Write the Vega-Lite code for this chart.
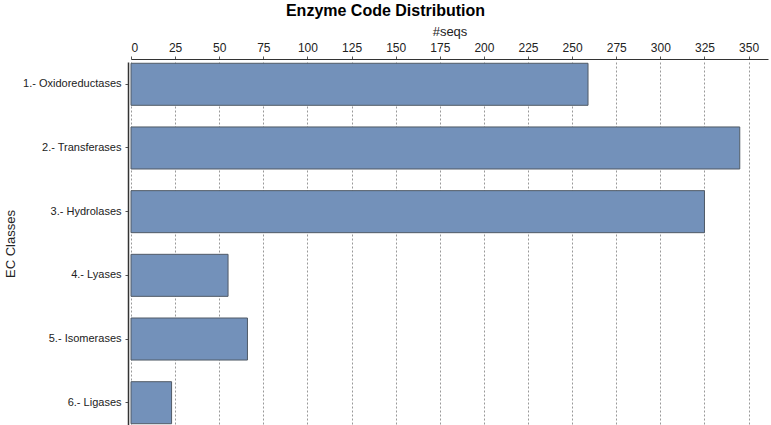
{
  "$schema": "https://vega.github.io/schema/vega-lite/v6.json",
  "width": 637,
  "height": 363,
  "autosize": {"type": "none"},
  "padding": {"left": 131, "top": 62, "right": 3, "bottom": 0},
  "background": "white",
  "title": {
    "text": "Enzyme Code Distribution",
    "font": "Liberation Sans",
    "fontSize": 16,
    "fontWeight": "bold",
    "color": "#000000",
    "anchor": "middle",
    "frame": "group",
    "dx": -64,
    "offset": 6
  },
  "data": {
    "values": [
      {"ec": "1.- Oxidoreductases", "seqs": 259},
      {"ec": "2.- Transferases", "seqs": 345},
      {"ec": "3.- Hydrolases", "seqs": 325},
      {"ec": "4.- Lyases", "seqs": 55},
      {"ec": "5.- Isomerases", "seqs": 66},
      {"ec": "6.- Ligases", "seqs": 23}
    ]
  },
  "mark": {"type": "bar", "color": "#7391ba", "stroke": "#505a66", "strokeWidth": 1},
  "encoding": {
    "y": {
      "field": "ec",
      "type": "nominal",
      "sort": null,
      "scale": {"paddingInner": 0.34, "paddingOuter": 0.02},
      "axis": {
        "title": "EC Classes",
        "titleFont": "Liberation Sans",
        "titleFontSize": 13,
        "titleFontWeight": "normal",
        "titleColor": "#222222",
        "labelFont": "Liberation Sans",
        "labelFontSize": 11,
        "labelColor": "#222222",
        "labelPadding": 4,
        "offset": 3,
        "domainColor": "#333333",
        "domainWidth": 1.5,
        "tickColor": "#555555",
        "tickSize": 3,
        "titlePadding": 5
      }
    },
    "x": {
      "field": "seqs",
      "type": "quantitative",
      "scale": {"domain": [0, 361], "nice": false},
      "axis": {
        "orient": "top",
        "values": [0, 25, 50, 75, 100, 125, 150, 175, 200, 225, 250, 275, 300, 325, 350],
        "title": "#seqs",
        "titleFont": "Liberation Sans",
        "titleFontSize": 13,
        "titleFontWeight": "normal",
        "titleColor": "#222222",
        "titlePadding": 3,
        "labelFont": "Liberation Sans",
        "labelFontSize": 12,
        "labelColor": "#222222",
        "labelPadding": 2,
        "offset": 3,
        "domainColor": "#333333",
        "tickColor": "#555555",
        "tickSize": 3,
        "grid": true,
        "gridColor": "#999999",
        "gridDash": [2, 2],
        "gridWidth": 1
      }
    }
  },
  "config": {"view": {"stroke": null}}
}
